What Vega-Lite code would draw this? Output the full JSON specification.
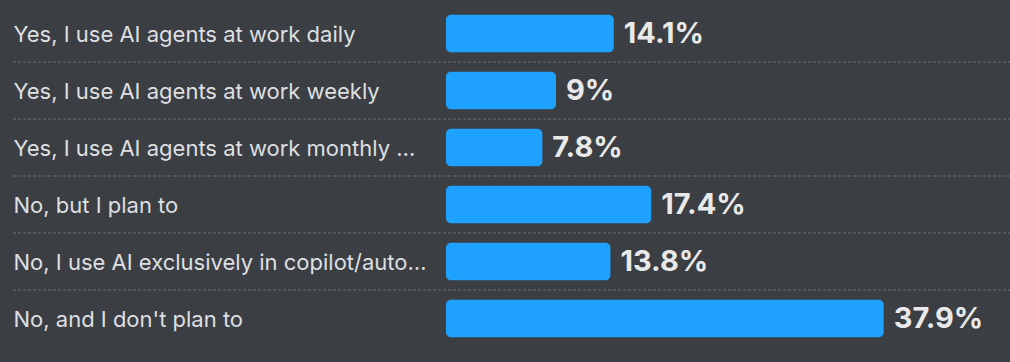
{
  "$schema": "https://vega.github.io/schema/vega-lite/v6.json",
  "width": 1010,
  "height": 342,
  "autosize": "none",
  "padding": {"left": 0, "top": 5, "right": 0, "bottom": 15},
  "background": "#3b3f44",
  "config": {"view": {"stroke": null}},
  "data": {
    "values": [
      {"q": "Yes, I use AI agents at work daily", "pct": 0.141},
      {"q": "Yes, I use AI agents at work weekly", "pct": 0.09},
      {"q": "Yes, I use AI agents at work monthly or less", "pct": 0.078},
      {"q": "No, but I plan to", "pct": 0.174},
      {"q": "No, I use AI exclusively in copilot/autocomplete mode", "pct": 0.138},
      {"q": "No, and I don't plan to", "pct": 0.379}
    ]
  },
  "encoding": {
    "y": {
      "field": "q",
      "type": "nominal",
      "sort": null,
      "scale": {"paddingInner": 0, "paddingOuter": 0},
      "axis": {
        "orient": "left",
        "title": null,
        "domain": false,
        "ticks": false,
        "grid": false,
        "labelAlign": "left",
        "labelPadding": -13,
        "labelLimit": 414,
        "labelFont": "Inter",
        "labelFontSize": 22,
        "labelOffset": 1.5,
        "labelColor": "#dedfe0"
      }
    }
  },
  "layer": [
    {
      "transform": [{"filter": "datum.q != \"No, and I don't plan to\""}],
      "mark": {"type": "rule", "color": "#6c7075", "strokeWidth": 1, "strokeDash": [3, 2]},
      "encoding": {
        "y": {"field": "q", "type": "nominal", "sort": null, "bandPosition": 1},
        "x": {"datum": -0.3888, "type": "quantitative", "scale": {"domain": [-0.4003, 0.4904], "nice": false, "zero": false}, "axis": null},
        "x2": {"datum": 0.4904}
      }
    },
    {
      "mark": {"type": "bar", "color": "#1fa1ff", "cornerRadius": 5, "height": {"band": 0.654}},
      "encoding": {
        "x": {"field": "pct", "type": "quantitative"},
        "x2": {"datum": -0.007}
      }
    },
    {
      "mark": {"type": "text", "align": "left", "baseline": "middle", "dx": 10, "dy": 0, "font": "Inter", "fontSize": 29, "fontWeight": "bold", "color": "#e9e9ea"},
      "encoding": {
        "x": {"field": "pct", "type": "quantitative"},
        "text": {"field": "pct", "type": "quantitative", "format": ".3~%"}
      }
    }
  ]
}
